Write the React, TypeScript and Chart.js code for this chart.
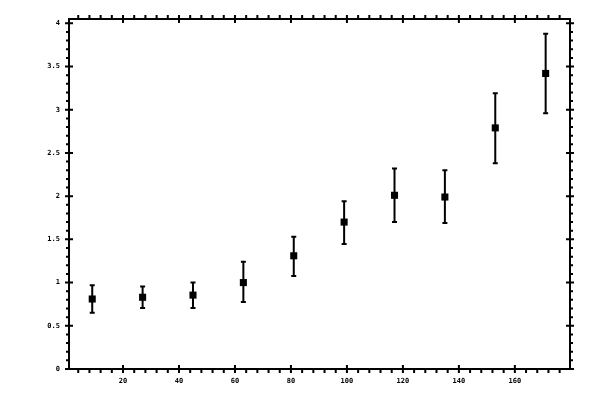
import React, { useEffect, useRef } from "react";
import { Chart, registerables } from "chart.js";

Chart.register(...registerables);

// Data
const xValues = [9, 27, 45, 63, 81, 99, 117, 135, 153, 171];
const yValues = [0.81, 0.83, 0.855, 1.0, 1.31, 1.7, 2.01, 1.99, 2.79, 3.42];
const yUpper = [0.97, 0.955, 1.0, 1.24, 1.53, 1.94, 2.32, 2.3, 3.19, 3.88];
const yLower = [0.65, 0.705, 0.705, 0.775, 1.075, 1.445, 1.7, 1.69, 2.38, 2.96];

// Axis ticks
const xTickLabels = [20, 40, 60, 80, 100, 120, 140, 160];
const yTickLabels = [0, 0.5, 1, 1.5, 2, 2.5, 3, 3.5, 4];
const xMinorStep = 4;
const yMinorStep = 0.1;

const X_MIN = 0.7;
const X_MAX = 179.7;
const Y_MIN = 0;
const Y_MAX = 4.05;

const FONT_FAMILY = "'DejaVu Sans Mono', monospace";

export default function App() {
  const ref = useRef<HTMLCanvasElement>(null);

  useEffect(() => {
    document.body.style.margin = "0";
    const canvas = ref.current;
    if (!canvas) return;

    const errorBars = {
      id: "errorBars",
      beforeDatasetsDraw(chart: any) {
        const ctx = chart.ctx;
        const xs = chart.scales.x;
        const ys = chart.scales.y;
        ctx.save();
        ctx.strokeStyle = "#000";
        ctx.lineWidth = 2;
        const cap = 2.5;
        xValues.forEach((xv, i) => {
          const px = xs.getPixelForValue(xv);
          const pTop = ys.getPixelForValue(yUpper[i]);
          const pBot = ys.getPixelForValue(yLower[i]);
          ctx.beginPath();
          ctx.moveTo(px, pTop);
          ctx.lineTo(px, pBot);
          ctx.moveTo(px - cap, pTop);
          ctx.lineTo(px + cap, pTop);
          ctx.moveTo(px - cap, pBot);
          ctx.lineTo(px + cap, pBot);
          ctx.stroke();
        });
        ctx.restore();
      },
    };

    const frame = {
      id: "frame",
      afterDatasetsDraw(chart: any) {
        const ctx = chart.ctx;
        const { left, right, top, bottom } = chart.chartArea;
        const xs = chart.scales.x;
        const ys = chart.scales.y;
        ctx.save();
        ctx.strokeStyle = "#000";
        ctx.lineWidth = 2;
        ctx.lineCap = "butt";
        ctx.beginPath();
        ctx.rect(left, top, right - left, bottom - top);
        ctx.stroke();

        ctx.beginPath();
        // x major ticks (crossing) bottom & top
        xTickLabels.forEach((v) => {
          const p = xs.getPixelForValue(v);
          ctx.moveTo(p, bottom - 4);
          ctx.lineTo(p, bottom + 4);
          ctx.moveTo(p, top - 4);
          ctx.lineTo(p, top + 4);
        });
        // x minor ticks (outward)
        for (let v = Math.ceil(X_MIN / xMinorStep) * xMinorStep; v <= X_MAX; v += xMinorStep) {
          if (xTickLabels.includes(v)) continue;
          const p = xs.getPixelForValue(v);
          ctx.moveTo(p, bottom);
          ctx.lineTo(p, bottom + 4);
          ctx.moveTo(p, top - 4);
          ctx.lineTo(p, top);
        }
        // y major ticks (crossing) left & right
        yTickLabels.forEach((v) => {
          const p = ys.getPixelForValue(v);
          ctx.moveTo(left - 4, p);
          ctx.lineTo(left + 4, p);
          ctx.moveTo(right - 4, p);
          ctx.lineTo(right + 4, p);
        });
        // y minor ticks (outward)
        for (let k = 1; k * yMinorStep <= Y_MAX + 1e-9; k++) {
          const v = Math.round(k * yMinorStep * 10) / 10;
          if (yTickLabels.some((t) => Math.abs(t - v) < 1e-9)) continue;
          const p = ys.getPixelForValue(v);
          ctx.moveTo(left - 3, p);
          ctx.lineTo(left, p);
          ctx.moveTo(right, p);
          ctx.lineTo(right + 3, p);
        }
        ctx.stroke();
        ctx.restore();
      },
    };

    const chart = new Chart(canvas, {
      type: "scatter",
      data: {
        datasets: [
          {
            data: xValues.map((x, i) => ({ x, y: yValues[i] })),
            pointStyle: "rect",
            pointRadius: 5,
            pointHoverRadius: 5,
            backgroundColor: "#000",
            borderColor: "#000",
            borderWidth: 0,
          },
        ],
      },
      options: {
        responsive: false,
        animation: false,
        devicePixelRatio: 1,
        layout: { padding: { top: 19, right: 30, left: 0, bottom: 0 } },
        plugins: {
          legend: { display: false },
          tooltip: { enabled: false },
        },
        scales: {
          x: {
            type: "linear",
            min: X_MIN,
            max: X_MAX,
            grid: { display: false, drawTicks: false },
            border: { display: false },
            afterBuildTicks: (s: any) => {
              s.ticks = xTickLabels.map((v) => ({ value: v }));
            },
            afterFit: (s: any) => {
              s.height = 31;
            },
            ticks: {
              padding: 7.5,
              color: "#000",
              font: { family: FONT_FAMILY, size: 7, weight: "bold" },
              maxRotation: 0,
              autoSkip: false,
              callback: (v: any) => String(v),
            },
          },
          y: {
            type: "linear",
            min: Y_MIN,
            max: Y_MAX,
            grid: { display: false, drawTicks: false },
            border: { display: false },
            afterBuildTicks: (s: any) => {
              s.ticks = yTickLabels.map((v) => ({ value: v }));
            },
            afterFit: (s: any) => {
              s.width = 69;
            },
            ticks: {
              padding: 9,
              color: "#000",
              font: { family: FONT_FAMILY, size: 7, weight: "bold" },
              autoSkip: false,
              callback: (v: any) => String(v),
            },
          },
        },
      },
      plugins: [errorBars, frame],
    });

    return () => chart.destroy();
  }, []);

  return (
    <div
      style={{
        position: "fixed",
        left: 0,
        top: 0,
        width: 600,
        height: 400,
        background: "#fff",
      }}
    >
      <canvas
        ref={ref}
        width={600}
        height={400}
        style={{ display: "block", width: 600, height: 400 }}
      />
    </div>
  );
}
